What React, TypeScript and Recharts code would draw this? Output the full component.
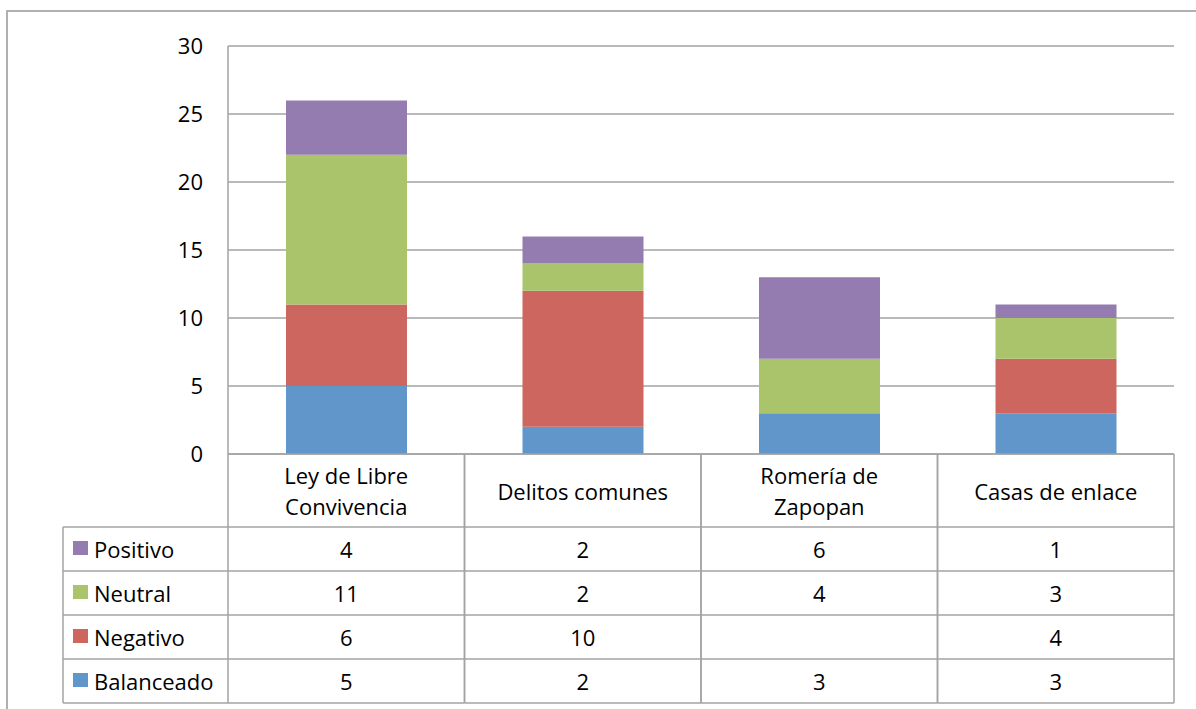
import React from "react";
import { BarChart, Bar, XAxis, YAxis, CartesianGrid } from "recharts";

const categories = ["Ley de Libre Convivencia", "Delitos comunes", "Romería de Zapopan", "Casas de enlace"];
const categoryLines = [["Ley de Libre", "Convivencia"], ["Delitos comunes"], ["Romería de", "Zapopan"], ["Casas de enlace"]];
const balanceado = [5, 2, 3, 3];
const negativo = [6, 10, null, 4];
const neutral = [11, 2, 4, 3];
const positivo = [4, 2, 6, 1];
const yTicks = [0, 5, 10, 15, 20, 25, 30];

const seriesDefs = [
  { key: "positivo", name: "Positivo", values: positivo, color: "#947CB1" },
  { key: "neutral", name: "Neutral", values: neutral, color: "#A9C46B" },
  { key: "negativo", name: "Negativo", values: negativo, color: "#CD665E" },
  { key: "balanceado", name: "Balanceado", values: balanceado, color: "#6096C9" },
];

const data = categories.map((c, i) => ({
  name: c,
  idx: i,
  balanceado: balanceado[i],
  negativo: negativo[i],
  neutral: neutral[i],
  positivo: positivo[i],
}));

const FONT = "'Open Sans', sans-serif";
const FS = 22;
const LINE = "#a3a3a3";
const PLOT_LEFT = 228;
const PLOT_RIGHT = 1174;
const BAND = (PLOT_RIGHT - PLOT_LEFT) / categories.length;
const HEADER_H = 73;
const ROW_H = 44;
const LEGEND_LEFT = 63;

function TableTick(props: any) {
  const { x, y, payload } = props;
  const i = payload.index;
  const left = x - BAND / 2;
  const right = x + BAND / 2;
  const lines = categoryLines[i];
  const bottom = y + HEADER_H + ROW_H * seriesDefs.length;
  const els: any[] = [];
  els.push(<line key="vl" x1={left} x2={left} y1={y} y2={bottom} stroke={LINE} strokeWidth={1.5} />);
  els.push(<line key="vr" x1={right} x2={right} y1={y} y2={bottom} stroke={LINE} strokeWidth={1.5} />);
  const headerCenter = y + HEADER_H / 2;
  lines.forEach((t, k) => {
    const cy = headerCenter + (k - (lines.length - 1) / 2) * 31;
    els.push(
      <text key={"h" + k} x={x} y={cy} textAnchor="middle" dominantBaseline="central" fontSize={FS} fontFamily={FONT} fill="#000">
        {t}
      </text>
    );
  });
  seriesDefs.forEach((s, r) => {
    const top = y + HEADER_H + r * ROW_H;
    els.push(<line key={"hl" + r} x1={left} x2={right} y1={top} y2={top} stroke={LINE} strokeWidth={1.5} />);
    const v = s.values[i];
    if (v !== null && v !== undefined) {
      els.push(
        <text key={"v" + r} x={x} y={top + ROW_H / 2} textAnchor="middle" dominantBaseline="central" fontSize={FS} fontFamily={FONT} fill="#000">
          {v}
        </text>
      );
    }
  });
  els.push(<line key="hb" x1={left} x2={right} y1={bottom} y2={bottom} stroke={LINE} strokeWidth={1.5} />);
  if (i === 0) {
    els.push(<line key="ll" x1={LEGEND_LEFT} x2={LEGEND_LEFT} y1={y + HEADER_H} y2={bottom} stroke={LINE} strokeWidth={1.5} />);
    seriesDefs.forEach((s, r) => {
      const top = y + HEADER_H + r * ROW_H;
      els.push(<line key={"lh" + r} x1={LEGEND_LEFT} x2={left} y1={top} y2={top} stroke={LINE} strokeWidth={1.5} />);
      els.push(<rect key={"ls" + r} x={LEGEND_LEFT + 10} y={top + ROW_H / 2 - 8} width={15} height={14} fill={s.color} />);
      els.push(
        <text key={"lt" + r} x={LEGEND_LEFT + 31} y={top + ROW_H / 2} dominantBaseline="central" fontSize={FS} fontFamily={FONT} fill="#000">
          {s.name}
        </text>
      );
    });
    els.push(<line key="lb" x1={LEGEND_LEFT} x2={left} y1={bottom} y2={bottom} stroke={LINE} strokeWidth={1.5} />);
  }
  return <g>{els}</g>;
}

export default function App() {
  return (
    <div style={{ position: "absolute", left: 0, top: 0, width: 1196, height: 709, overflow: "hidden", background: "#fff" }}>
      <div style={{ position: "absolute", left: 6, top: 10, width: 1300, height: 800, border: "2px solid #b0b0b0" }} />
      <div style={{ position: "absolute", left: 0, top: 0 }}>
        <BarChart
          width={1196}
          height={709}
          data={data}
          margin={{ top: 46, right: 1196 - PLOT_RIGHT, bottom: 0, left: PLOT_LEFT - 60 }}
          barSize={121}
        >
          <CartesianGrid vertical={false} stroke={LINE} strokeWidth={1.5} />
          <XAxis
            dataKey="name"
            height={255}
            interval={0}
            tickLine={false}
            tickSize={0}
            tickMargin={0}
            axisLine={{ stroke: LINE, strokeWidth: 1.5 }}
            tick={<TableTick />}
          />
          <YAxis
            width={60}
            domain={[0, 30]}
            ticks={yTicks}
            interval={0}
            tickLine={false}
            tickSize={0}
            tickMargin={25}
            axisLine={{ stroke: LINE, strokeWidth: 1.5 }}
            tick={{ fontSize: FS, fontFamily: FONT, fill: "#000" }}
          />
          <Bar dataKey="balanceado" stackId="a" fill="#6096C9" isAnimationActive={false} />
          <Bar dataKey="negativo" stackId="a" fill="#CD665E" isAnimationActive={false} />
          <Bar dataKey="neutral" stackId="a" fill="#A9C46B" isAnimationActive={false} />
          <Bar dataKey="positivo" stackId="a" fill="#947CB1" isAnimationActive={false} />
        </BarChart>
      </div>
    </div>
  );
}
